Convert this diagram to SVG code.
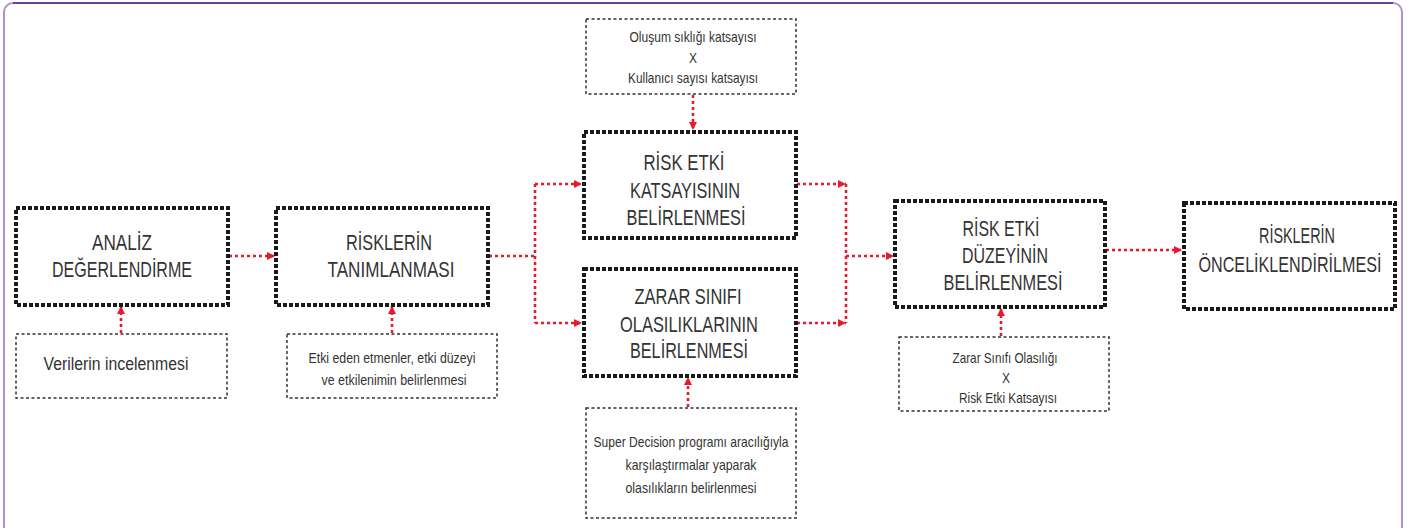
<svg xmlns="http://www.w3.org/2000/svg" width="1413" height="528" viewBox="0 0 1413 528">
<style>
.thick{fill:none;stroke:#1a1a1a;stroke-width:4;stroke-dasharray:4 2}
.thin{fill:none;stroke:#333;stroke-width:1.5;stroke-dasharray:3 2.5}
.con{fill:none;stroke:#e8192c;stroke-width:2.6;stroke-dasharray:3 3}
.t{font-family:"Liberation Sans",Arial,sans-serif;fill:#333;text-anchor:middle}
.big{font-size:22px}
.med{font-size:17.5px}
.sm{font-size:15px}
</style>
<defs>
<marker id="ah" markerUnits="userSpaceOnUse" markerWidth="10" markerHeight="10" refX="8" refY="5" orient="auto">
<path d="M0,1 L8,5 L0,9 Z" fill="#e8192c"/>
</marker>
</defs>
<rect x="0" y="0" width="1413" height="528" fill="#fff"/>
<rect x="4" y="3" width="1398" height="545" rx="9" fill="none" stroke="#b08fd2" stroke-width="2"/>
<path d="M13 3 H1393" stroke="#6b3fa0" stroke-width="2"/>

<g id="connectors">
<path class="con" d="M229 256 H275" marker-end="url(#ah)"/>
<path class="con" d="M121 333 V306" marker-end="url(#ah)"/>
<path class="con" d="M392 333 V306" marker-end="url(#ah)"/>
<path class="con" d="M489 256 H535"/>
<path class="con" d="M535 184 V323"/>
<path class="con" d="M535 184 H582" marker-end="url(#ah)"/>
<path class="con" d="M535 323 H582" marker-end="url(#ah)"/>
<path class="con" d="M693 95 V130" marker-end="url(#ah)"/>
<path class="con" d="M688 407 V377" marker-end="url(#ah)"/>
<path class="con" d="M797 184 H846" marker-end="url(#ah)"/>
<path class="con" d="M797 323 H846" marker-end="url(#ah)"/>
<path class="con" d="M846 184 V323"/>
<path class="con" d="M846 256 H894" marker-end="url(#ah)"/>
<path class="con" d="M1001 336 V308" marker-end="url(#ah)"/>
<path class="con" d="M1106 250 H1182" marker-end="url(#ah)"/>
</g>

<g id="analiz">
<rect class="thick" x="16" y="208" width="212" height="97"/>
<text class="t big" x="122" y="250" textLength="60" lengthAdjust="spacingAndGlyphs">ANALİZ</text>
<text class="t big" x="122" y="277" textLength="140" lengthAdjust="spacingAndGlyphs">DEĞERLENDİRME</text>
</g>

<g id="verilerin">
<rect class="thin" x="16" y="334" width="211" height="64"/>
<text class="t med" x="116" y="370" textLength="145" lengthAdjust="spacingAndGlyphs">Verilerin incelenmesi</text>
</g>

<g id="riskler">
<rect class="thick" x="276" y="208" width="212" height="97"/>
<text class="t big" x="389" y="250" textLength="86" lengthAdjust="spacingAndGlyphs">RİSKLERİN</text>
<text class="t big" x="391" y="277" textLength="127" lengthAdjust="spacingAndGlyphs">TANIMLANMASI</text>
</g>

<g id="etki">
<rect class="thin" x="287" y="334" width="210" height="64"/>
<text class="t sm" x="392" y="363" textLength="167" lengthAdjust="spacingAndGlyphs">Etki eden etmenler, etki düzeyi</text>
<text class="t sm" x="394" y="385" textLength="145" lengthAdjust="spacingAndGlyphs">ve etkilenimin belirlenmesi</text>
</g>

<g id="olusum">
<rect class="thin" x="586" y="19" width="210" height="75"/>
<text class="t sm" x="693" y="42" textLength="127" lengthAdjust="spacingAndGlyphs">Oluşum sıklığı katsayısı</text>
<text class="t sm" x="693" y="63" textLength="8" lengthAdjust="spacingAndGlyphs">X</text>
<text class="t sm" x="693" y="83" textLength="130" lengthAdjust="spacingAndGlyphs">Kullanıcı sayısı katsayısı</text>
</g>

<g id="riskEtkiKatsayi">
<rect class="thick" x="584" y="132" width="212" height="106"/>
<text class="t big" x="684" y="170" textLength="81" lengthAdjust="spacingAndGlyphs">RİSK ETKİ</text>
<text class="t big" x="685" y="198" textLength="110" lengthAdjust="spacingAndGlyphs">KATSAYISININ</text>
<text class="t big" x="686" y="225" textLength="119" lengthAdjust="spacingAndGlyphs">BELİRLENMESİ</text>
</g>

<g id="zarar">
<rect class="thick" x="584" y="269" width="212" height="107"/>
<text class="t big" x="688" y="304" textLength="107" lengthAdjust="spacingAndGlyphs">ZARAR SINIFI</text>
<text class="t big" x="689" y="332" textLength="138" lengthAdjust="spacingAndGlyphs">OLASILIKLARININ</text>
<text class="t big" x="689" y="358" textLength="118" lengthAdjust="spacingAndGlyphs">BELİRLENMESİ</text>
</g>

<g id="super">
<rect class="thin" x="586" y="408" width="210" height="110"/>
<text class="t sm" x="691" y="447" textLength="195" lengthAdjust="spacingAndGlyphs">Super Decision programı aracılığıyla</text>
<text class="t sm" x="691" y="470" textLength="131" lengthAdjust="spacingAndGlyphs">karşılaştırmalar yaparak</text>
<text class="t sm" x="691" y="493" textLength="131" lengthAdjust="spacingAndGlyphs">olasılıkların belirlenmesi</text>
</g>

<g id="riskEtkiDuzey">
<rect class="thick" x="895" y="201" width="210" height="106"/>
<text class="t big" x="1001" y="236" textLength="77" lengthAdjust="spacingAndGlyphs">RİSK ETKİ</text>
<text class="t big" x="1005" y="263" textLength="86" lengthAdjust="spacingAndGlyphs">DÜZEYİNİN</text>
<text class="t big" x="1003" y="290" textLength="119" lengthAdjust="spacingAndGlyphs">BELİRLENMESİ</text>
</g>

<g id="zararSinifi">
<rect class="thin" x="899" y="337" width="210" height="74"/>
<text class="t sm" x="1005" y="363" textLength="105" lengthAdjust="spacingAndGlyphs">Zarar Sınıfı Olasılığı</text>
<text class="t sm" x="1006" y="383" textLength="8" lengthAdjust="spacingAndGlyphs">X</text>
<text class="t sm" x="1008" y="403" textLength="98" lengthAdjust="spacingAndGlyphs">Risk Etki Katsayısı</text>
</g>

<g id="oncelik">
<rect class="thick" x="1184" y="203" width="211" height="106"/>
<text class="t big" x="1297" y="243" textLength="76" lengthAdjust="spacingAndGlyphs">RİSKLERİN</text>
<text class="t big" x="1290" y="272" textLength="183" lengthAdjust="spacingAndGlyphs">ÖNCELİKLENDİRİLMESİ</text>
</g>
</svg>
